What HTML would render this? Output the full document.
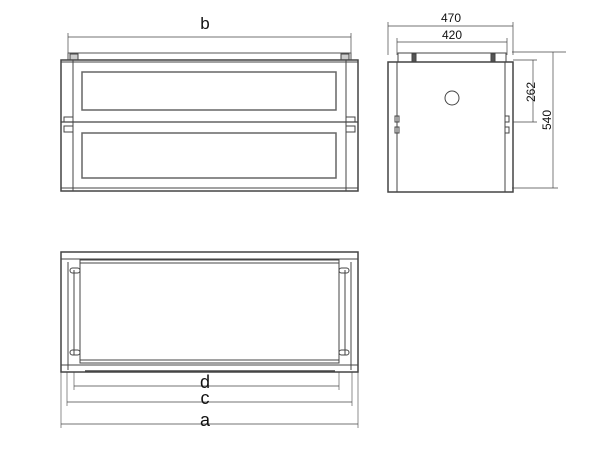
<!DOCTYPE html>
<html><head><style>body{margin:0;background:#fff}svg{display:block}text{font-family:"Liberation Sans",sans-serif;fill:#111}</style></head><body>
<svg width="600" height="455" viewBox="0 0 600 455" xmlns="http://www.w3.org/2000/svg" fill="none" stroke="#444" stroke-width="1">
<!-- front view -->
<line x1="68" y1="37" x2="351" y2="37" stroke-width="0.7"/>
<line x1="68" y1="33" x2="68" y2="56" stroke-width="0.7"/><line x1="351" y1="33" x2="351" y2="56" stroke-width="0.7"/>
<text x="205" y="29" font-size="17" text-anchor="middle" stroke="none">b</text>
<rect x="68" y="53" width="283" height="7" stroke="#555"/>
<rect x="70" y="54" width="8" height="6" fill="#ccc"/><rect x="341" y="54" width="8" height="6" fill="#ccc"/>
<rect x="61" y="60" width="297" height="131" stroke-width="1.5"/>
<line x1="73" y1="60" x2="73" y2="191"/><line x1="346" y1="60" x2="346" y2="191"/>
<line x1="61" y1="62" x2="358" y2="62"/>
<rect x="82" y="72" width="254" height="38" stroke="#666" stroke-width="1.5"/>
<rect x="82" y="133" width="254" height="45" stroke="#666" stroke-width="1.5"/>
<line x1="61" y1="122" x2="358" y2="122" stroke-width="1.2"/>
<rect x="64" y="117" width="9" height="5"/><rect x="64" y="126" width="9" height="6"/>
<rect x="346" y="117" width="9" height="5"/><rect x="346" y="126" width="9" height="6"/>
<line x1="61" y1="188" x2="358" y2="188"/>
<!-- side view -->
<line x1="388" y1="26" x2="513" y2="26" stroke-width="0.7"/>
<line x1="388" y1="22" x2="388" y2="55" stroke-width="0.7"/><line x1="513" y1="22" x2="513" y2="55" stroke-width="0.7"/>
<text x="451" y="22" font-size="12" text-anchor="middle" stroke="none">470</text>
<line x1="397" y1="42" x2="507" y2="42" stroke-width="0.7"/>
<line x1="397" y1="38" x2="397" y2="55" stroke-width="0.7"/><line x1="507" y1="38" x2="507" y2="55" stroke-width="0.7"/>
<text x="452" y="39" font-size="12" text-anchor="middle" stroke="none">420</text>
<rect x="398" y="53" width="108" height="9"/>
<rect x="412" y="54" width="4" height="8" fill="#555"/><rect x="491" y="54" width="4" height="8" fill="#555"/>
<rect x="388" y="62" width="125" height="130" stroke-width="1.5"/>
<line x1="397" y1="62" x2="397" y2="192"/><line x1="505" y1="62" x2="505" y2="192"/>
<rect x="395" y="116" width="4" height="6"/><rect x="395" y="127" width="4" height="6"/>
<rect x="505" y="116" width="4" height="6"/><rect x="505" y="127" width="4" height="6"/>
<circle cx="452" cy="98" r="7"/>
<line x1="513" y1="60" x2="537" y2="60" stroke-width="0.7"/><line x1="513" y1="122" x2="537" y2="122" stroke-width="0.7"/>
<line x1="533" y1="60" x2="533" y2="122" stroke-width="0.7"/>
<text transform="translate(535,92) rotate(-90)" font-size="12" text-anchor="middle" stroke="none">262</text>
<line x1="512" y1="52" x2="566" y2="52" stroke-width="0.7"/><line x1="512" y1="188" x2="558" y2="188" stroke-width="0.7"/>
<line x1="553" y1="52" x2="553" y2="188" stroke-width="0.7"/>
<text transform="translate(551,120) rotate(-90)" font-size="12" text-anchor="middle" stroke="none">540</text>
<!-- bottom view -->
<rect x="61" y="252" width="297" height="120" stroke-width="1.5"/>
<line x1="61" y1="259" x2="358" y2="259"/>
<line x1="61" y1="365" x2="358" y2="365"/>
<rect x="80" y="260" width="259" height="103"/>
<line x1="80" y1="263" x2="339" y2="263"/><line x1="80" y1="360" x2="339" y2="360"/>
<line x1="68" y1="262" x2="68" y2="370"/><line x1="351" y1="262" x2="351" y2="370"/>
<line x1="74" y1="270" x2="74" y2="355"/><line x1="345" y1="270" x2="345" y2="355"/>
<rect x="70" y="268" width="10" height="5" rx="2.5"/><rect x="70" y="350" width="10" height="5" rx="2.5"/>
<rect x="339" y="268" width="10" height="5" rx="2.5"/><rect x="339" y="350" width="10" height="5" rx="2.5"/>
<line x1="85" y1="371" x2="335" y2="371" stroke-width="1.5"/>
<line x1="74" y1="386" x2="339" y2="386" stroke-width="0.7"/>
<text x="205" y="388" font-size="18" text-anchor="middle" stroke="none">d</text>
<line x1="67" y1="402" x2="352" y2="402" stroke-width="0.7"/>
<text x="205" y="404" font-size="18" text-anchor="middle" stroke="none">c</text>
<line x1="61" y1="424" x2="358" y2="424" stroke-width="0.7"/>
<text x="205" y="426" font-size="18" text-anchor="middle" stroke="none">a</text>
<line x1="61" y1="372" x2="61" y2="428" stroke-width="0.6"/><line x1="358" y1="372" x2="358" y2="428" stroke-width="0.6"/>
<line x1="67" y1="372" x2="67" y2="406" stroke-width="0.6"/><line x1="352" y1="372" x2="352" y2="406" stroke-width="0.6"/>
<line x1="74" y1="372" x2="74" y2="390" stroke-width="0.6"/><line x1="339" y1="372" x2="339" y2="390" stroke-width="0.6"/>
</svg>
</body></html>
